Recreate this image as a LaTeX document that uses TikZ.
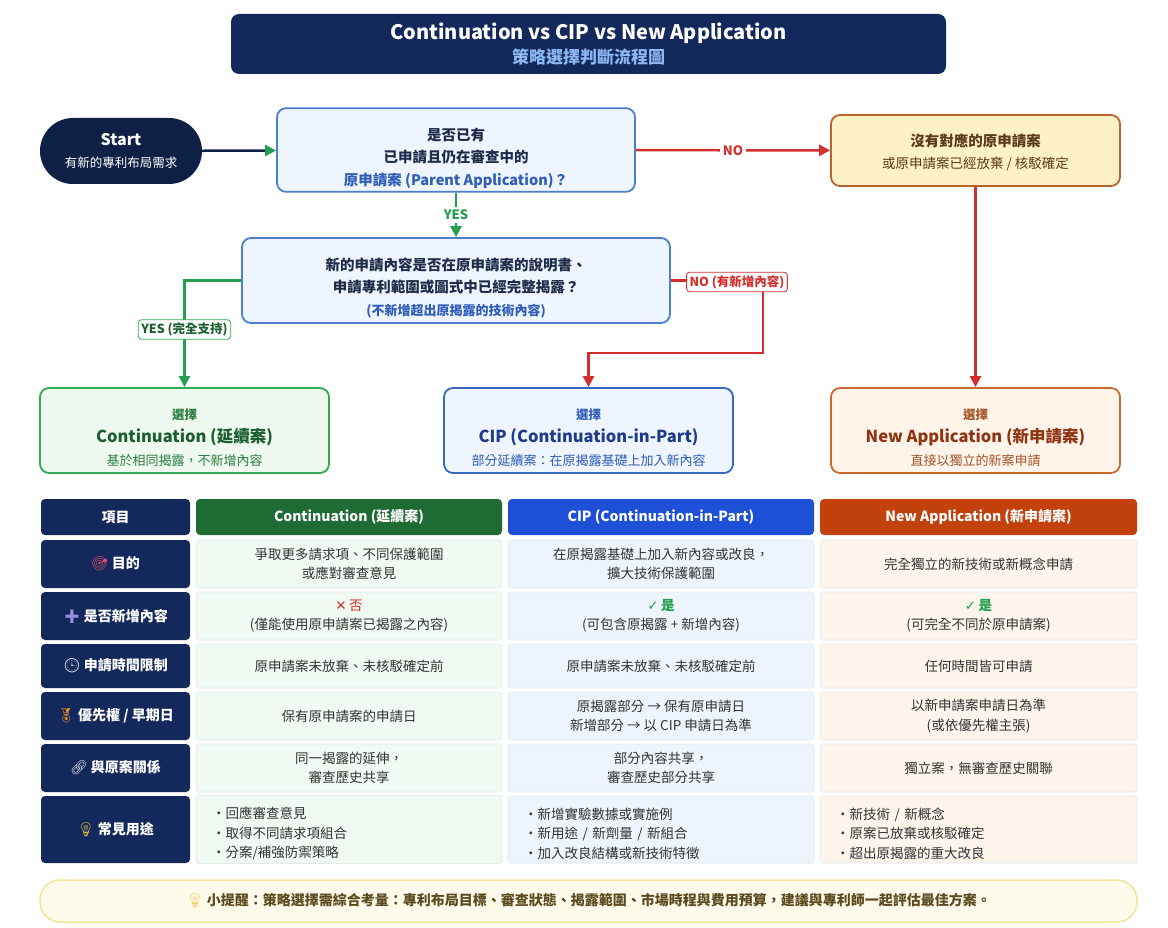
\documentclass[tikz,border=0pt]{standalone}
\usepackage{fontspec}
\setmainfont{Noto Sans CJK TC}
\newfontfamily\emojifont{Noto Emoji}
\newfontfamily\symbolfont{DejaVu Sans}
\usetikzlibrary{arrows.meta}

\definecolor{navy}{HTML}{13295B}
\definecolor{startnavy}{HTML}{0F2047}
\definecolor{subblue}{HTML}{8DB8F5}
\definecolor{qline}{HTML}{4D7FCC}
\definecolor{qfill}{HTML}{EEF5FE}
\definecolor{qtext}{HTML}{1E2B4A}
\definecolor{qblue}{HTML}{2F5DB8}
\definecolor{flowgreen}{HTML}{23A04F}
\definecolor{flowred}{HTML}{D32F2F}
\definecolor{contline}{HTML}{34A853}
\definecolor{contfill}{HTML}{EEFAF0}
\definecolor{contdark}{HTML}{1B5E30}
\definecolor{contsub}{HTML}{2E7D40}
\definecolor{cipline}{HTML}{3A67C0}
\definecolor{cipdark}{HTML}{1E3A8A}
\definecolor{npfill}{HTML}{FFF1C6}
\definecolor{npline}{HTML}{B7652C}
\definecolor{nptext}{HTML}{5B3A1A}
\definecolor{nafill}{HTML}{FFF4EA}
\definecolor{naline}{HTML}{C96A2E}
\definecolor{nadark}{HTML}{8F3412}
\definecolor{nasub}{HTML}{A5542A}
\definecolor{hdrgreen}{HTML}{1F6B34}
\definecolor{hdrblue}{HTML}{1D4FD7}
\definecolor{hdrorange}{HTML}{C2410C}
\definecolor{cellgreen}{HTML}{F0FAF3}
\definecolor{cellblue}{HTML}{EEF4FB}
\definecolor{cellpeach}{HTML}{FDF4EC}
\definecolor{cellline}{HTML}{E2E8EE}
\definecolor{celltext}{HTML}{333333}
\definecolor{tipfill}{HTML}{FFFBEA}
\definecolor{tipline}{HTML}{F5E49A}
\definecolor{tiptext}{HTML}{5C4A1F}
\definecolor{iconred}{HTML}{E05070}
\definecolor{iconpurple}{HTML}{9A8CE0}
\definecolor{icongray}{HTML}{E4E4EE}
\definecolor{iconorange}{HTML}{E8902A}
\definecolor{iconyellow}{HTML}{F5C242}

\newcommand\cellicon[2]{{\color{#1}\emojifont\fontsize{14}{16}\selectfont #2}}

\begin{document}
\begin{tikzpicture}[x=1pt,y=-1pt,
    flowbox/.style={draw,line width=1.8pt,rounded corners=9pt,align=center},
    qbox/.style={flowbox,draw=qline,fill=qfill,text=qtext,font=\bfseries\fontsize{14.5}{22.5}\selectfont},
    pickbox/.style={flowbox,minimum width=289pt,minimum height=85pt,text height=71pt,font=\fontsize{13}{23}\selectfont},
    flowline/.style={line width=2.5pt,-{Triangle[length=11pt,width=11pt]}},
    edgelbl/.style={fill=white,font=\bfseries\fontsize{13}{15}\selectfont,inner sep=3pt},
    branchlbl/.style={fill=white,draw,line width=0.8pt,rounded corners=3pt,inner sep=3pt,font=\bfseries\fontsize{12.5}{15}\selectfont},
    hdr/.style={rounded corners=4pt,minimum height=36pt,text=white,font=\bfseries\fontsize{14}{17}\selectfont},
    item/.style={fill=navy,rounded corners=4pt,minimum width=149pt,text=white,font=\bfseries\fontsize{14}{17}\selectfont},
    cell/.style={draw=cellline,line width=0.6pt,rounded corners=3pt,text=celltext,align=center,font=\fontsize{13.5}{19.5}\selectfont},
    cellA/.style={cell,fill=cellgreen,minimum width=306pt},
    cellB/.style={cell,fill=cellblue,minimum width=306pt},
    cellC/.style={cell,fill=cellpeach,minimum width=317pt}]

  \useasboundingbox (0,0) rectangle (1168,928);
  \fill[white] (0,0) rectangle (1168,928);

  \node[fill=navy,rounded corners=8pt,minimum width=715pt,minimum height=60pt,align=center,text=white,
        font=\bfseries\fontsize{20}{24}\selectfont] (title) at (588.5,44)
        {Continuation vs CIP vs New Application\\{\color{subblue}\fontsize{17}{24}\selectfont 策略選擇判斷流程圖}};

  \node[fill=startnavy,rounded corners=33pt,minimum width=162pt,minimum height=66pt,align=center,text=white,
        font=\fontsize{12.5}{22}\selectfont] (start) at (121,151)
        {{\bfseries\fontsize{16}{22}\selectfont Start}\\有新的專利布局需求};

  \node[qbox,minimum width=358pt,minimum height=82pt,text height=74pt] (q1) at (456,150)
        {是否已有\\已申請且仍在審查中的\\{\color{qblue}原申請案 (Parent Application)？}};

  \node[qbox,minimum width=428pt,minimum height=85pt,text height=72pt] (q2) at (456,280.5)
        {新的申請內容是否在原申請案的說明書、\\申請專利範圍或圖式中已經完整揭露？\\{\color{qblue}\fontsize{13}{22.5}\selectfont (不新增超出原揭露的技術內容)}};

  \node[flowbox,draw=npline,fill=npfill,text=nptext,minimum width=289pt,minimum height=71pt,text height=39pt,
        font=\fontsize{13.5}{22}\selectfont] (noparent) at (975.5,150.5)
        {{\bfseries\fontsize{14.5}{22}\selectfont 沒有對應的原申請案}\\或原申請案已經放棄 / 核駁確定};

  \node[pickbox,draw=contline,fill=contfill,text=contsub] (cont) at (184.5,430.5)
        {{\bfseries\fontsize{12.5}{23}\selectfont 選擇}\\{\color{contdark}\bfseries\fontsize{16.5}{23}\selectfont Continuation (延續案)}\\基於相同揭露，不新增內容};
  \node[pickbox,draw=cipline,fill=qfill,text=qblue] (cip) at (588.5,430.5)
        {{\bfseries\fontsize{12.5}{23}\selectfont 選擇}\\{\color{cipdark}\bfseries\fontsize{16.5}{23}\selectfont CIP (Continuation-in-Part)}\\部分延續案：在原揭露基礎上加入新內容};
  \node[pickbox,draw=naline,fill=nafill,text=nasub] (newapp) at (975.5,430.5)
        {{\bfseries\fontsize{12.5}{23}\selectfont 選擇}\\{\color{nadark}\bfseries\fontsize{16.5}{23}\selectfont New Application (新申請案)}\\直接以獨立的新案申請};

  \draw[flowline,draw=startnavy,-{Triangle[length=11pt,width=11pt,color=flowgreen]}] (start) -- (q1);
  \draw[flowline,draw=flowred] (q1) -- node[edgelbl,text=flowred] {NO} (noparent);
  \draw[flowline,draw=flowgreen] (q1) -- node[edgelbl,text=flowgreen] {YES} (q2);
  \draw[flowline,draw=flowred] (noparent) -- (newapp);

  \coordinate (nobend) at (763,353);
  \draw[flowline,draw=flowgreen] (q2.west) -| node[pos=0.73,branchlbl,draw=contline,text=contdark] {YES (完全支持)} (cont.north);
  \draw[flowline,draw=flowred] (q2.east) -| (nobend) -| (cip.north);
  \node[branchlbl,draw=flowred,text=flowred] (nolbl) at (737,282) {NO (有新增內容)};

  \node[hdr,fill=navy,minimum width=149pt] (h0) at (115.5,517) {項目};
  \node[hdr,fill=hdrgreen,minimum width=306pt] (h1) at (349,517) {Continuation (延續案)};
  \node[hdr,fill=hdrblue,minimum width=306pt] (h2) at (661,517) {CIP (Continuation-in-Part)};
  \node[hdr,fill=hdrorange,minimum width=317pt] (h3) at (978.5,517) {New Application (新申請案)};

  \node[item,minimum height=48pt] (purpose) at (115.5,564) {\cellicon{iconred}{🎯}\ 目的};
  \node[cellA,minimum height=48pt] (purposeA) at (349,564) {爭取更多請求項、不同保護範圍\\或應對審查意見};
  \node[cellB,minimum height=48pt] (purposeB) at (661,564) {在原揭露基礎上加入新內容或改良，\\擴大技術保護範圍};
  \node[cellC,minimum height=48pt] (purposeC) at (978.5,564) {完全獨立的新技術或新概念申請};

  \node[item,minimum height=48pt] (newmat) at (115.5,616) {\cellicon{iconpurple}{➕}\ 是否新增內容};
  \node[cellA,minimum height=48pt] (newmatA) at (349,616) {{\color{flowred}{\symbolfont ✕}\,否}\\(僅能使用原申請案已揭露之內容)};
  \node[cellB,minimum height=48pt] (newmatB) at (661,616) {{\color{flowgreen}\bfseries{\symbolfont ✓}\,是}\\(可包含原揭露 + 新增內容)};
  \node[cellC,minimum height=48pt] (newmatC) at (978.5,616) {{\color{flowgreen}\bfseries{\symbolfont ✓}\,是}\\(可完全不同於原申請案)};

  \node[item,minimum height=44pt] (timing) at (115.5,666) {\cellicon{icongray}{🕒}\ 申請時間限制};
  \node[cellA,minimum height=44pt] (timingA) at (349,666) {原申請案未放棄、未核駁確定前};
  \node[cellB,minimum height=44pt] (timingB) at (661,666) {原申請案未放棄、未核駁確定前};
  \node[cellC,minimum height=44pt] (timingC) at (978.5,666) {任何時間皆可申請};

  \node[item,minimum height=48pt] (priority) at (115.5,716) {\cellicon{iconorange}{🏅}\ 優先權 / 早期日};
  \node[cellA,minimum height=48pt] (priorityA) at (349,716) {保有原申請案的申請日};
  \node[cellB,minimum height=48pt] (priorityB) at (661,716) {原揭露部分 → 保有原申請日\\新增部分 → 以 CIP 申請日為準};
  \node[cellC,minimum height=48pt] (priorityC) at (978.5,716) {以新申請案申請日為準\\(或依優先權主張)};

  \node[item,minimum height=48pt] (relation) at (115.5,768) {\cellicon{icongray}{🔗}\ 與原案關係};
  \node[cellA,minimum height=48pt] (relationA) at (349,768) {同一揭露的延伸，\\審查歷史共享};
  \node[cellB,minimum height=48pt] (relationB) at (661,768) {部分內容共享，\\審查歷史部分共享};
  \node[cellC,minimum height=48pt] (relationC) at (978.5,768) {獨立案，無審查歷史關聯};

  \node[item,minimum height=67pt] (usage) at (115.5,829.5) {\cellicon{iconyellow}{💡}\ 常見用途};
  \node[cellA,minimum height=67pt,text width=274pt,inner xsep=16pt,align=left,text height=20pt] (usageA) at (349,829.5)
        {・回應審查意見\\・取得不同請求項組合\\・分案/補強防禦策略};
  \node[cellB,minimum height=67pt,text width=274pt,inner xsep=16pt,align=left,text height=20pt] (usageB) at (661,829.5)
        {・新增實驗數據或實施例\\・新用途 / 新劑量 / 新組合\\・加入改良結構或新技術特徵};
  \node[cellC,minimum height=67pt,text width=285pt,inner xsep=16pt,align=left,text height=20pt] (usageC) at (978.5,829.5)
        {・新技術 / 新概念\\・原案已放棄或核駁確定\\・超出原揭露的重大改良};

  \node[draw=tipline,fill=tipfill,line width=1.5pt,rounded corners=20pt,minimum width=1097pt,minimum height=42pt,
        text=tiptext,font=\bfseries\fontsize{14}{17}\selectfont] (tip) at (588.5,901)
        {\cellicon{iconyellow}{💡}\ 小提醒：策略選擇需綜合考量：專利布局目標、審查狀態、揭露範圍、市場時程與費用預算，建議與專利師一起評估最佳方案。};

\end{tikzpicture}
\end{document}
